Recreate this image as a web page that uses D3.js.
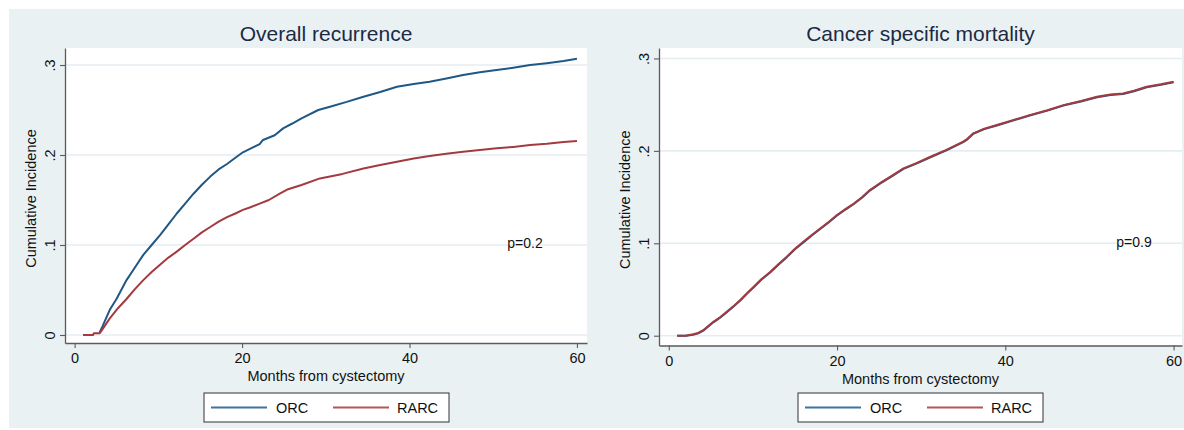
<!DOCTYPE html>
<html>
<head>
<meta charset="utf-8">
<script src="https://cdn.jsdelivr.net/npm/d3@7"></script>
<style>
  html, body { margin: 0; padding: 0; background: #ffffff; }
  svg { display: block; font-family: "Liberation Sans", Arial, Helvetica, sans-serif; }
</style>
</head>
<body>
<svg id="chart" width="1184" height="430"></svg>
<script>
// ---------- DATA ----------
const seriesNames = ["ORC", "RARC"];
const panelTitles = ["Overall recurrence", "Cancer specific mortality"];
const pValues = ["p=0.2", "p=0.9"];
const xTickValues = [0, 20, 40, 60];
const xTickLabels = ["0", "20", "40", "60"];
const yTickValues = [0, 0.1, 0.2, 0.3];
const yTickLabels = ["0", ".1", ".2", ".3"];
const xTitle = "Months from cystectomy";
const yTitle = "Cumulative Incidence";

// Overall recurrence – ORC
const recOrcMonths = [3, 3.3, 4.2, 5, 6.2, 7.2, 8.2, 9.2, 10.2, 11.2, 12.2, 13.2, 14.2, 15.2, 16.2, 17.2, 18.2, 19.2, 20.1, 21, 22.1, 22.5, 23.9, 24.9, 26, 27.1, 29.1, 30.5, 32.5, 34.5, 36.5, 38.5, 40.5, 42.4, 44.4, 46.4, 48.4, 50.4, 52.4, 54.4, 56.4, 58.4, 60];
const recOrcValues = [0.003, 0.009, 0.028, 0.040, 0.061, 0.075, 0.089, 0.100, 0.111, 0.123, 0.135, 0.146, 0.157, 0.167, 0.176, 0.184, 0.190, 0.197, 0.203, 0.207, 0.212, 0.2167, 0.222, 0.2296, 0.235, 0.2407, 0.250, 0.2537, 0.259, 0.2648, 0.270, 0.2759, 0.279, 0.2815, 0.285, 0.2889, 0.292, 0.2944, 0.297, 0.300, 0.302, 0.3044, 0.307];
// Overall recurrence – RARC
const recRarcMonths = [1, 2.2, 2.3, 3, 3.3, 4.2, 5.2, 6.2, 7.2, 8.2, 9.2, 10.2, 11.2, 12.2, 13.2, 14.2, 15.2, 16.2, 17.2, 18.2, 19.2, 20.1, 21, 22.1, 23.2, 24.5, 25.5, 27.1, 29.3, 32, 34.5, 36.5, 38.5, 40.5, 42.4, 44.4, 46.4, 48.4, 50.4, 52.4, 54.4, 56.4, 58.4, 60];
const recRarcValues = [0, 0, 0.002, 0.002, 0.006, 0.0185, 0.030, 0.040, 0.051, 0.061, 0.070, 0.078, 0.086, 0.0926, 0.100, 0.107, 0.114, 0.120, 0.126, 0.131, 0.135, 0.139, 0.142, 0.146, 0.150, 0.157, 0.162, 0.1667, 0.174, 0.179, 0.185, 0.189, 0.1926, 0.196, 0.1989, 0.2015, 0.2037, 0.2055, 0.2074, 0.209, 0.211, 0.2125, 0.2145, 0.2155];

// Cancer specific mortality – ORC
const mortOrcMonths = [1, 2, 2.9, 3.5, 4.1, 5.3, 6.1, 6.9, 7.7, 8.5, 9.3, 10.1, 11, 12.05, 13, 14.03, 15, 16, 17, 18, 19, 20, 21, 22, 23, 23.9, 25.1, 26.5, 27.9, 29.5, 31.1, 33, 35, 35.5, 36.2, 37.5, 39, 41, 42.9, 45, 46.9, 49, 50.9, 52.5, 54, 55.3, 56.8, 58.5, 60];
const mortOrcValues = [0, 0, 0.001, 0.0025, 0.0055, 0.0145, 0.0195, 0.0255, 0.0315, 0.038, 0.0455, 0.0525, 0.0605, 0.0685, 0.0765, 0.085, 0.0935, 0.101, 0.1085, 0.1155, 0.1225, 0.13, 0.1365, 0.1425, 0.1495, 0.157, 0.1645, 0.1725, 0.1805, 0.1865, 0.193, 0.2005, 0.2095, 0.2125, 0.2185, 0.2235, 0.2275, 0.233, 0.2382, 0.2435, 0.249, 0.2535, 0.258, 0.2605, 0.2615, 0.2645, 0.2688, 0.2715, 0.2742];
// Cancer specific mortality – RARC
const mortRarcMonths = [1, 2, 2.9, 3.5, 4.1, 5.3, 6.1, 6.9, 7.7, 8.5, 9.3, 10.1, 11, 12.05, 13, 14.03, 15, 16, 17, 18, 19, 20, 21, 22, 23, 23.9, 25.1, 26.5, 27.9, 29.5, 31.1, 33, 35, 35.5, 36.2, 37.5, 39, 41, 42.9, 45, 46.9, 49, 50.9, 52.5, 54, 55.3, 56.8, 58.5, 60];
const mortRarcValues = [0, 0, 0.0015, 0.003, 0.006, 0.015, 0.020, 0.026, 0.032, 0.0386, 0.046, 0.053, 0.061, 0.069, 0.077, 0.0855, 0.094, 0.1017, 0.109, 0.116, 0.123, 0.1305, 0.137, 0.143, 0.150, 0.1576, 0.165, 0.173, 0.181, 0.187, 0.1936, 0.201, 0.210, 0.213, 0.219, 0.224, 0.228, 0.2335, 0.2387, 0.244, 0.2495, 0.254, 0.2585, 0.261, 0.262, 0.265, 0.2693, 0.272, 0.2747];

// ---------- STYLE / LAYOUT ----------
const colors = { ORC: "#1f5885", RARC: "#a33a40" };
const legendColors = { ORC: "#3d74a0", RARC: "#b5545a" };
const bgColor = "#eaf1f3";
const gridColor = "#e4edf0";
const axisColor = "#5b5b5b";
const textColor = "#111111";
const titleColor = "#1b2a45";

const panels = [
  {
    title: panelTitles[0], p: pValues[0],
    series: [
      { name: "ORC", months: recOrcMonths, values: recOrcValues },
      { name: "RARC", months: recRarcMonths, values: recRarcValues }
    ],
    left: 65, right: 587, top: 48, bottom: 343,
    xDomain: [-1.15, 61.2], yDomain: [-0.0089, 0.3189],
    pX: 525, pY: 248,
    yTitleX: 36, yTickOffset: 10,
    legendX: 204
  },
  {
    title: panelTitles[1], p: pValues[1],
    series: [
      { name: "ORC", months: mortOrcMonths, values: mortOrcValues },
      { name: "RARC", months: mortRarcMonths, values: mortRarcValues }
    ],
    left: 659, right: 1182, top: 48, bottom: 345.5,
    xDomain: [-1.16, 61.0], yDomain: [-0.0106, 0.3113],
    pX: 1134, pY: 247,
    yTitleX: 630, yTickOffset: 10,
    legendX: 798
  }
];

const svg = d3.select("#chart");

// graph region background
svg.append("rect").attr("x", 9).attr("y", 9).attr("width", 1184 - 9).attr("height", 428 - 9).attr("fill", bgColor);

panels.forEach(P => {
  const g = svg.append("g");
  const x = d3.scaleLinear().domain(P.xDomain).range([P.left, P.right]);
  const y = d3.scaleLinear().domain(P.yDomain).range([P.bottom, P.top]);
  const cx = (P.left + P.right) / 2;

  // plot region
  g.append("rect").attr("x", P.left).attr("y", P.top)
    .attr("width", P.right - P.left).attr("height", P.bottom - P.top).attr("fill", "#ffffff");

  // gridlines
  g.selectAll("line.grid").data(yTickValues).enter().append("line")
    .attr("class", "grid")
    .attr("x1", P.left).attr("x2", P.right)
    .attr("y1", d => y(d)).attr("y2", d => y(d))
    .attr("stroke", gridColor).attr("stroke-width", 1.6);

  // title
  g.append("text").attr("x", cx).attr("y", 41).attr("text-anchor", "middle")
    .attr("font-size", "21px").attr("fill", titleColor).text(P.title);

  // curves
  const line = d3.line().x(d => x(d[0])).y(d => y(d[1]));
  P.series.forEach(s => {
    const pts = s.months.map((m, i) => [m, s.values[i]]);
    g.append("path").datum(pts).attr("d", line)
      .attr("fill", "none").attr("stroke", colors[s.name])
      .attr("stroke-width", 2).attr("stroke-linejoin", "round");
  });

  // y axis
  const yAxis = d3.axisLeft(y).tickValues(yTickValues)
    .tickFormat((d, i) => yTickLabels[i]).tickSize(5).tickSizeOuter(0);
  const ya = g.append("g").attr("transform", `translate(${P.left},0)`).call(yAxis);
  ya.select(".domain").attr("stroke", axisColor).attr("stroke-width", 1.3);
  ya.selectAll(".tick line").attr("stroke", axisColor).attr("stroke-width", 1.1);
  ya.selectAll(".tick text")
    .attr("x", null).attr("dy", null)
    .attr("transform", `translate(${-P.yTickOffset},0) rotate(-90)`)
    .attr("text-anchor", "middle")
    .attr("font-size", "14.5px").attr("fill", textColor)
    .attr("font-family", "Liberation Sans, Arial, sans-serif");

  // x axis
  const xAxis = d3.axisBottom(x).tickValues(xTickValues)
    .tickFormat((d, i) => xTickLabels[i]).tickSize(5).tickSizeOuter(0);
  const xa = g.append("g").attr("transform", `translate(0,${P.bottom})`).call(xAxis);
  xa.select(".domain").attr("stroke", axisColor).attr("stroke-width", 1.3);
  xa.selectAll(".tick line").attr("stroke", axisColor).attr("stroke-width", 1.1);
  xa.selectAll(".tick text").attr("y", 10).attr("dy", "0.71em")
    .attr("font-size", "14.5px").attr("fill", textColor)
    .attr("font-family", "Liberation Sans, Arial, sans-serif");

  // axis titles
  g.append("text").attr("x", cx).attr("y", P.bottom + 38).attr("text-anchor", "middle")
    .attr("font-size", "14.5px").attr("fill", textColor).text(xTitle);
  g.append("text").attr("transform", `translate(${P.yTitleX},${(P.top + P.bottom) / 2 + 3}) rotate(-90)`)
    .attr("text-anchor", "middle").attr("font-size", "14.5px").attr("fill", textColor).text(yTitle);

  // p-value
  g.append("text").attr("x", P.pX).attr("y", P.pY).attr("text-anchor", "middle")
    .attr("font-size", "14px").attr("fill", textColor).text(P.p);

  // legend
  const lg = g.append("g").attr("transform", `translate(${P.legendX},393)`);
  lg.append("rect").attr("x", 0).attr("y", 0).attr("width", 245).attr("height", 29)
    .attr("fill", "#ffffff").attr("stroke", "#333333").attr("stroke-width", 1);
  const legendItems = [
    { name: seriesNames[0], lx: 7, tx: 72 },
    { name: seriesNames[1], lx: 129, tx: 193 }
  ];
  legendItems.forEach(it => {
    lg.append("line").attr("x1", it.lx).attr("x2", it.lx + 56).attr("y1", 14.5).attr("y2", 14.5)
      .attr("stroke", legendColors[it.name]).attr("stroke-width", 1.8);
    lg.append("text").attr("x", it.tx).attr("y", 19.5).attr("font-size", "14.5px")
      .attr("fill", textColor).text(it.name);
  });
});
</script>
</body>
</html>
